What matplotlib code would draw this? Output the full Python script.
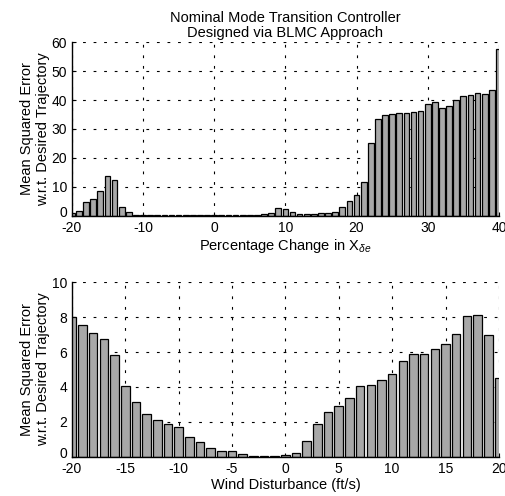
import numpy as np
import matplotlib
matplotlib.use('Agg')
import matplotlib.pyplot as plt
from matplotlib.transforms import ScaledTranslation

plt.rcParams['font.family'] = ['Liberation Sans', 'DejaVu Sans']
plt.rcParams['mathtext.fontset'] = 'custom'
plt.rcParams['mathtext.rm'] = 'Liberation Sans'
plt.rcParams['mathtext.it'] = 'Liberation Sans:italic'
plt.rcParams['axes.unicode_minus'] = False

# top panel: percentage change in X_de, -20..40
pct_change = list(range(-20, 41))
mse_pct = [1.0, 1.5, 4.7, 5.9, 8.4, 13.7, 12.5, 3.0, 1.3, 0.3,
           0.1, 0.1, 0.1, 0.1, 0.1, 0.1, 0.1, 0.1, 0.1, 0.1,
           0.1, 0.1, 0.1, 0.1, 0.1, 0.1, 0.2, 0.5, 1.0, 2.7,
           2.4, 1.3, 0.5, 0.6, 0.6, 0.8, 0.8, 1.3, 3.0, 5.1,
           7.3, 11.6, 25.1, 33.6, 34.9, 35.3, 35.5, 35.5, 35.9, 36.3,
           38.7, 39.3, 37.4, 37.8, 39.9, 41.4, 41.9, 42.4, 42.2, 43.4,
           57.8]

# bottom panel: wind disturbance (ft/s), -20..20
wind = list(range(-20, 21))
mse_wind = [8.0, 7.55, 7.1, 6.75, 5.85, 4.05, 3.15, 2.48, 2.1, 1.87,
            1.68, 1.14, 0.84, 0.48, 0.34, 0.34, 0.15, 0.05, 0.02, 0.05,
            0.08, 0.2, 0.93, 1.88, 2.59, 2.93, 3.35, 4.04, 4.13, 4.38,
            4.74, 5.47, 5.9, 5.9, 6.19, 6.48, 7.03, 8.08, 8.13, 6.95,
            4.53]

ylabel = 'Mean Squared Error\nw.r.t. Desired Trajectory'
bar_color = '#a8a8a8'

fig = plt.figure(figsize=(5.06, 4.96), dpi=100)
ax1 = fig.add_axes([0.142, 0.565, 0.844, 0.350])
ax2 = fig.add_axes([0.142, 0.079, 0.844, 0.352])


def style(ax):
    ax.spines['top'].set_visible(False)
    ax.spines['right'].set_visible(False)
    ax.grid(True, color='black', linestyle=(0, (2.5, 7)), linewidth=0.8)
    ax.set_axisbelow(True)
    ax.tick_params(direction='in', length=3, labelsize=10, width=0.8)
    for s in ['left', 'bottom']:
        ax.spines[s].set_linewidth(1.0)
    ax.yaxis.set_label_coords(-0.05, 0.5)
    # lift the "0" label a little so it clears the first x tick label
    lab0 = ax.get_yticklabels()[0]
    lab0.set_transform(lab0.get_transform() + ScaledTranslation(0, 3 / 72, fig.dpi_scale_trans))


ax1.bar(pct_change, mse_pct, width=0.8, color=bar_color, edgecolor='black', linewidth=0.9)
ax1.set_xlim(-20, 40)
ax1.set_ylim(0, 60)
ax1.set_xticks(range(-20, 41, 10))
ax1.set_yticks(range(0, 61, 10))
ax1.set_xlabel(r'Percentage Change in X$_{\delta e}$', fontsize=10.5, labelpad=2)
ax1.set_ylabel(ylabel, fontsize=10.5)
ax1.set_title('Nominal Mode Transition Controller\nDesigned via BLMC Approach',
              fontsize=10.5, pad=4, linespacing=1.1)
style(ax1)

ax2.bar(wind, mse_wind, width=0.8, color=bar_color, edgecolor='black', linewidth=0.9)
ax2.set_xlim(-20, 20)
ax2.set_ylim(0, 10)
ax2.set_xticks(range(-20, 21, 5))
ax2.set_yticks(range(0, 11, 2))
ax2.set_xlabel('Wind Disturbance (ft/s)', fontsize=10.5, labelpad=2)
ax2.set_ylabel(ylabel, fontsize=10.5)
style(ax2)

fig.savefig('out.png', dpi=100)
